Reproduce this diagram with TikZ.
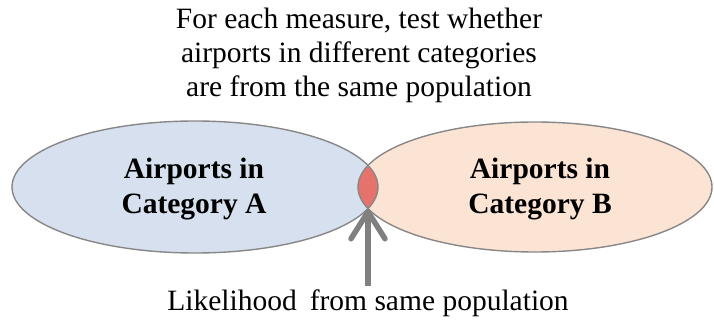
\documentclass[tikz,border=0pt]{standalone}
\usepackage{fontspec}
\setmainfont{Liberation Serif}
\usetikzlibrary{shapes.geometric,arrows.meta}
\definecolor{fillA}{RGB}{214,224,238}
\definecolor{fillB}{RGB}{252,228,213}
\definecolor{lensred}{RGB}{229,115,107}
\definecolor{edgegray}{RGB}{135,135,135}
\definecolor{arrowgray}{RGB}{128,128,128}
\tikzset{
  setbox/.style={ellipse, inner sep=0pt, draw=edgegray, line width=1.4pt},
  bigtext/.style={font=\fontsize{29.5}{34}\selectfont, inner sep=0pt, align=center},
  labeltext/.style={font=\bfseries\fontsize{29.5}{35}\selectfont, inner sep=0pt, align=center},
  arr/.style={draw=arrowgray, line width=5.5pt, -{Straight Barb[length=27pt,width=34pt,line cap=round,line join=round]}}
}
\begin{document}
\begin{tikzpicture}[x=1pt,y=-1pt]
\useasboundingbox (0,0) rectangle (714,320);
% filled sets
\fill[fillA] (195,187) ellipse [x radius=183, y radius=66];
\fill[fillB] (535,187) ellipse [x radius=177, y radius=65];
\begin{scope}
  \clip (195,187) ellipse [x radius=183, y radius=66];
  \fill[lensred] (535,187) ellipse [x radius=177, y radius=65];
\end{scope}
% outlines as named nodes
\node[setbox, minimum width=366pt, minimum height=132pt] (A) at (195,187) {};
\node[setbox, minimum width=354pt, minimum height=130pt] (B) at (535,187) {};
\coordinate (lens) at (368,209);
% labels (base = last line)
\node[labeltext, anchor=base] (la) at (194,214) {Airports in\\Category A};
\node[labeltext, anchor=base] (lb) at (540,214) {Airports in\\Category B};
% top text
\node[bigtext, anchor=base] (top) at (359,97) {For each measure, test whether\\airports in different categories\\are from the same population};
% bottom text
\node[bigtext, anchor=base] (bot) at (368,310) {Likelihood\hspace{13pt}from same population};
% arrow
\draw[arr] ([yshift=3pt]bot.north -| lens) -- (lens);
\end{tikzpicture}
\end{document}
